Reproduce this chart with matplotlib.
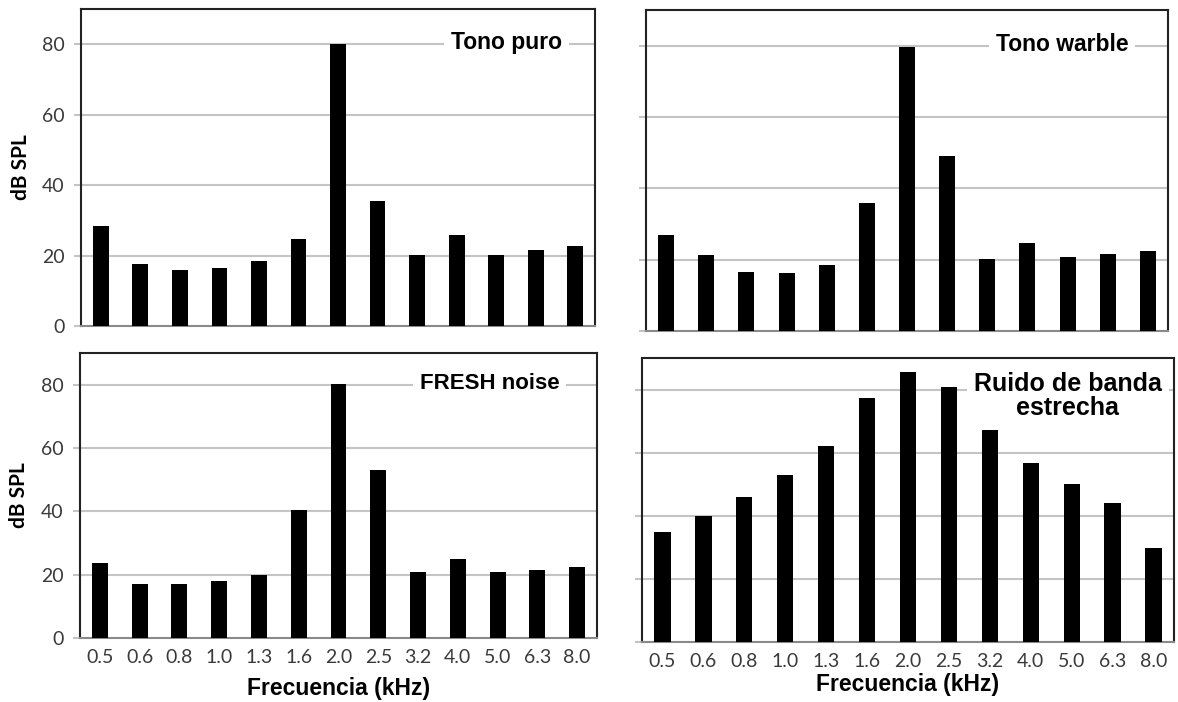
import matplotlib
matplotlib.use("Agg")
import matplotlib.pyplot as plt
import numpy as np

freqs = ["0.5", "0.6", "0.8", "1.0", "1.3", "1.6", "2.0", "2.5", "3.2", "4.0", "5.0", "6.3", "8.0"]

tono_puro = [28.5, 17.5, 15.8, 16.5, 18.4, 24.7, 80.0, 35.6, 20.3, 25.7, 20.3, 21.5, 22.8]
tono_warble = [26.9, 21.3, 16.6, 16.3, 18.5, 35.9, 79.5, 49.0, 20.1, 24.8, 20.8, 21.6, 22.5]
fresh_noise = [23.7, 17.2, 17.2, 17.9, 19.8, 40.5, 80.2, 52.9, 20.8, 24.9, 20.8, 21.6, 22.5]
ruido_banda = [34.7, 39.9, 45.8, 52.9, 62.1, 77.4, 85.5, 80.8, 67.1, 56.7, 50.1, 43.9, 29.8]

y_ticks = [0, 20, 40, 60, 80]

GRID = "#c4c4c4"
TICK_TXT = "#3a3a3a"


def _panel(fig, rect, values, title, title_xy, title_size, show_ylab, show_xlab, xlab_pad=7):
    ax = fig.add_axes(rect)
    x = np.arange(len(freqs))
    ax.bar(x, values, width=0.4, color="black", zorder=3)
    ax.set_xlim(-0.5, len(freqs) - 0.5)
    ax.set_ylim(0, 90)
    ax.set_yticks(y_ticks)
    ax.yaxis.grid(True, color=GRID, linewidth=1.5, zorder=0)
    ax.tick_params(axis="y", length=5, width=1.5, color=GRID, pad=7,
                   labelsize=14, labelcolor=TICK_TXT)
    ax.tick_params(axis="x", length=0, pad=8, labelsize=14, labelcolor=TICK_TXT)
    for lab in ax.get_yticklabels() + ax.get_xticklabels():
        lab.set_fontfamily("Lato")
    if not show_ylab:
        ax.set_yticklabels([])
    else:
        ax.set_ylabel("dB SPL", fontsize=15, fontweight="bold", family="Lato", labelpad=8)
    if show_xlab:
        ax.set_xticks(x)
        ax.set_xticklabels(freqs, family="Lato")
        ax.set_xlabel("Frecuencia (kHz)", fontsize=16.5, fontweight="bold",
                      family="Liberation Sans", labelpad=xlab_pad)
    else:
        ax.set_xticks([])
    for side in ["left", "top", "right"]:
        ax.spines[side].set_color("#222222")
        ax.spines[side].set_linewidth(1.5)
    ax.spines["bottom"].set_color("#8a8a8a")
    ax.spines["bottom"].set_linewidth(1.5)
    ax.text(title_xy[0], title_xy[1], title, transform=ax.transAxes, ha="center", va="center",
            fontsize=title_size, fontweight="bold", family="Liberation Sans", zorder=4,
            linespacing=1.0,
            bbox=dict(facecolor="white", edgecolor="none", pad=5))
    return ax


fig = plt.figure(figsize=(11.78, 7.02), dpi=100)

_panel(fig, [0.0688, 0.5356, 0.4363, 0.4516], tono_puro, "Tono puro", (0.828, 0.893), 16.5, True, False)
_panel(fig, [0.5484, 0.5285, 0.4431, 0.4573], tono_warble, "Tono warble", (0.797, 0.893), 16.5, False, False)
_panel(fig, [0.0679, 0.0912, 0.4389, 0.4060], fresh_noise, "FRESH noise", (0.792, 0.893), 16, True, True, 8)
_panel(fig, [0.5450, 0.0855, 0.4516, 0.4046], ruido_banda, "Ruido de banda\nestrecha", (0.800, 0.865), 18, False, True, 2)

fig.savefig("out.png", dpi=100)
plt.close(fig)
